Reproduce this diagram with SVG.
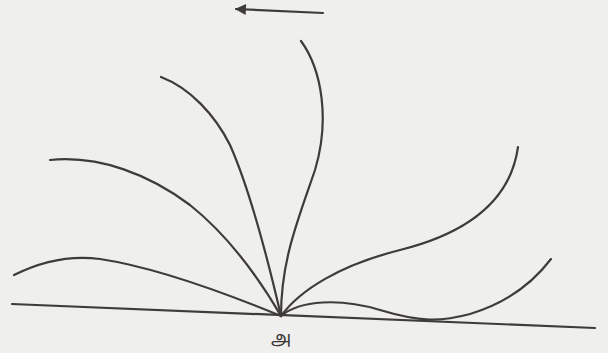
<svg xmlns="http://www.w3.org/2000/svg" width="608" height="353" viewBox="0 0 608 353">
<defs>
<style>
.ln{fill:none;stroke:#3f3b3b;stroke-width:2.2;stroke-linecap:round;stroke-linejoin:round}
.lbl{font-family:"Noto Sans Tamil","Lohit Tamil","Noto Serif Tamil","Noto Sans","DejaVu Sans",sans-serif;font-size:18px;fill:#3a3636;text-anchor:middle}
</style>
<marker id="ah" viewBox="0 0 10 10" refX="9" refY="5" markerWidth="7" markerHeight="5" markerUnits="strokeWidth" orient="auto">
<path d="M0,0 L10,5 L0,10 Z" fill="#3f3b3b"/>
</marker>
</defs>
<rect width="608" height="353" fill="#efefed"/>
<g id="arrow">
<path class="ln" d="M323,13 L236,9" marker-end="url(#ah)"/>
</g>
<g id="ground">
<path class="ln" d="M12,304 L595,328"/>
</g>
<g id="connectors">
<path class="ln" d="M14,275 C40,262 70,255 100,259 C160,268 230,295 281,316"/>
<path class="ln" d="M50,160 C100,155 150,175 190,205 C230,237 260,280 281,316"/>
<path class="ln" d="M161,77 C190,88 215,115 230,145 C250,190 268,260 281,316"/>
<path class="ln" d="M301,41 C322,70 330,120 315,170 C298,220 281,260 281,316"/>
<path class="ln" d="M281,316 C300,290 340,265 400,250 C460,235 510,205 518,147"/>
<path class="ln" d="M281,316 C300,300 340,298 380,310 C420,322 440,322 470,314 C510,302 535,280 551,259"/>
</g>
<g id="origin">
<text class="lbl" x="281" y="344">அ</text>
</g>
</svg>
